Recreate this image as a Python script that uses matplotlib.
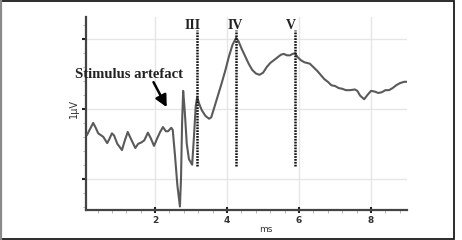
import matplotlib
matplotlib.use("Agg")
import matplotlib.pyplot as plt
from matplotlib.patches import Rectangle
from matplotlib.ticker import MultipleLocator
import matplotlib.transforms as mtransforms

# Trace (time in ms, amplitude in µV relative to the "1µV" tick)
time_ms = [0.11, 0.20, 0.28, 0.35, 0.42, 0.56, 0.67, 0.73, 0.80, 0.86, 0.95, 1.08,
           1.16, 1.24, 1.32, 1.45, 1.53, 1.62, 1.70, 1.80, 1.88, 1.97, 2.06, 2.14,
           2.22, 2.30, 2.36, 2.45, 2.49, 2.55, 2.62, 2.69, 2.72, 2.75, 2.78, 2.82,
           2.88, 2.94, 3.03, 3.08, 3.13, 3.17, 3.22, 3.30, 3.40, 3.50, 3.56, 3.65,
           3.75, 3.85, 3.95, 4.05, 4.15, 4.25, 4.32, 4.40, 4.50, 4.60, 4.70, 4.80,
           4.90, 5.00, 5.10, 5.20, 5.30, 5.40, 5.50, 5.58, 5.66, 5.75, 5.82, 5.89,
           5.95, 6.05, 6.15, 6.30, 6.40, 6.50, 6.60, 6.70, 6.80, 6.90, 7.00, 7.10,
           7.20, 7.30, 7.42, 7.55, 7.62, 7.70, 7.81, 7.90, 8.00, 8.10, 8.20, 8.30,
           8.40, 8.50, 8.60, 8.70, 8.80, 8.92, 9.00]
amplitude = [-0.37, -0.28, -0.20, -0.27, -0.35, -0.40, -0.49, -0.43, -0.35, -0.38, -0.50, -0.59,
             -0.45, -0.33, -0.42, -0.56, -0.50, -0.48, -0.45, -0.34, -0.42, -0.53, -0.42, -0.33,
             -0.26, -0.32, -0.32, -0.27, -0.30, -0.65, -1.10, -1.40, -1.00, -0.20, 0.26, 0.00,
             -0.50, -0.72, -0.80, -0.40, 0.05, 0.17, 0.08, -0.02, -0.10, -0.14, -0.12, 0.03,
             0.20, 0.37, 0.55, 0.75, 0.92, 1.02, 0.97, 0.87, 0.76, 0.65, 0.56, 0.51,
             0.49, 0.52, 0.60, 0.66, 0.70, 0.74, 0.78, 0.79, 0.77, 0.77, 0.79, 0.80,
             0.75, 0.70, 0.67, 0.65, 0.60, 0.55, 0.49, 0.43, 0.39, 0.34, 0.33, 0.30,
             0.29, 0.27, 0.27, 0.28, 0.26, 0.19, 0.14, 0.20, 0.26, 0.25, 0.23, 0.24,
             0.27, 0.27, 0.30, 0.34, 0.37, 0.39, 0.39]

wave_labels = ["III", "IV", "V"]
wave_x = [3.17, 4.25, 5.89]
wave_label_x = [3.03, 4.22, 5.78]
marker_top = 1.14
marker_bottom = -0.82

x_ticks = [2, 4, 6, 8]
x_tick_labels = ["2", "4", "6", "8"]
y_ticks = [-1, 0, 1]
y_tick_labels = ["", "1µV", ""]

W, H = 462, 240
fig = plt.figure(figsize=(W / 100, H / 100), dpi=100)
fig.patch.set_facecolor("white")

# outer frame
fig.patches.append(Rectangle((1 / W, 1 / H), 453 / W, 238 / H, transform=fig.transFigure,
                             fill=False, edgecolor="#1a1a1a", linewidth=1.3))
fig.lines.append(plt.Line2D([1 / W, 1 / W], [0, 1], transform=fig.transFigure,
                            color="#8a8a8a", linewidth=1.6))

ax = fig.add_axes([86 / W, 30 / H, 321 / W, 193 / H])
ax.set_xlim(0.08, 9.0)
ax.set_ylim(-1.45, 1.32)

for s in ["top", "right"]:
    ax.spines[s].set_visible(False)
for s in ["left", "bottom"]:
    ax.spines[s].set_color("#444444")
    ax.spines[s].set_linewidth(1.6)

ax.set_xticks(x_ticks)
ax.set_xticklabels(x_tick_labels, fontsize=6.5, fontweight="bold", color="#333333")
ax.set_yticks(y_ticks)
ax.set_yticklabels(y_tick_labels, fontsize=7, rotation=90, va="center", color="#333333")
ax.xaxis.set_minor_locator(MultipleLocator(0.4))
ax.yaxis.set_minor_locator(MultipleLocator(0.2))
ax.tick_params(axis="both", which="major", length=3, width=1.5, color="#222222", pad=2)
ax.tick_params(axis="both", which="minor", length=2, width=0.6, color="#aaaaaa")
ax.tick_params(axis="x", direction="inout", length=4)

ax.grid(True, which="major", color="#e6e6e6", linewidth=1.0)
ax.set_axisbelow(True)

ax.plot(time_ms, amplitude, color="#5a5a5a", linewidth=1.5, zorder=3)

for lab, xv, lx in zip(wave_labels, wave_x, wave_label_x):
    ax.plot([xv, xv], [marker_bottom, marker_top], color="#111111", linewidth=1.8,
            linestyle=(0, (0.7, 0.45)), zorder=4)
    ax.text(lx, 1.2, lab, fontsize=10, fontweight="bold", family="Liberation Serif",
            ha="center", va="center", color="#222222", clip_on=False)

ax.annotate("", xy=(2.36, -0.01), xytext=(1.92, 0.42),
            arrowprops=dict(arrowstyle="-|>,head_length=0.7,head_width=0.35",
                            color="black", linewidth=1.8), zorder=5)
ax.text(1.28, 0.49, "Stimulus artefact", fontsize=10.5, fontweight="bold",
        family="Liberation Serif", ha="center", va="center", color="#222222",
        clip_on=False, zorder=5)

trans = mtransforms.blended_transform_factory(ax.transData, fig.transFigure)
ax.text(5.08, 1 - 229 / H, "ms", transform=trans, fontsize=6.5, ha="center",
        va="center", color="#333333")

fig.savefig("out.png", dpi=100)
